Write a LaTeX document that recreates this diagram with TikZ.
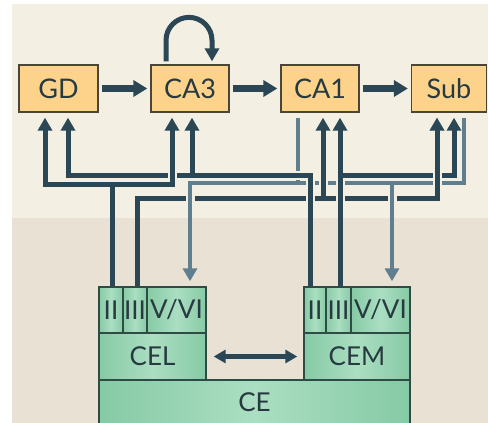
\documentclass[tikz,border=0pt]{standalone}
\usepackage{fontspec}
\setmainfont{Lato}
\usetikzlibrary{arrows.meta}
\definecolor{bgtop}{HTML}{F3F0E3}
\definecolor{bgbot}{HTML}{E9E1D4}
\definecolor{dk}{HTML}{2B4654}
\definecolor{lt}{HTML}{5F7E90}
\definecolor{orfill}{HTML}{FDD38B}
\definecolor{orline}{HTML}{4A4536}
\definecolor{gA}{HTML}{86CAA5}
\definecolor{gB}{HTML}{ABDEC2}
\definecolor{grline}{HTML}{2E4C44}
\definecolor{txt}{HTML}{263A40}
\newcommand\haloline[3]{%
  \begin{scope}\clip (0,0) rectangle (488,-216);
    \draw[#1,draw=bgtop,line width=9pt,#2] #3;
  \end{scope}
  \draw[#1] #3;}
\begin{document}
\begin{tikzpicture}[x=1pt,y=1pt,
  region/.style={draw=orline, line width=1.3pt, fill=orfill, minimum height=47pt,
    inner sep=0pt, text=txt, font=\fontsize{27}{27}\selectfont},
  cell/.style={draw=grline, line width=1.4pt, left color=gA, right color=gA, middle color=gB,
    inner sep=0pt, text=txt, font=\fontsize{26}{26}\selectfont},
  dkline/.style={draw=dk, line width=5pt},
  ltline/.style={draw=lt, line width=4pt},
  tip/.style={-{Triangle[length=13pt,width=14pt]}},
]
\fill[white] (0,0) rectangle (488,-423);
\fill[bgtop] (12,-4) rectangle (488,-218);
\fill[bgbot] (12,-218) rectangle (488,-423);
\useasboundingbox (0,0) rectangle (488,-423);

% hippocampal regions
\node[region, minimum width=79pt] (GD) at (58.5,-88.5) {GD};
\node[region, minimum width=78pt] (CA3) at (190,-88.5) {CA3};
\node[region, minimum width=78pt] (CA1) at (320,-88.5) {CA1};
\node[region, minimum width=75pt] (Sub) at (449,-88.5) {Sub};

% entorhinal cortex
\node[cell, minimum width=311pt, minimum height=45pt] (CE) at (254.5,-402.5) {CE};
\node[cell, minimum width=107pt, minimum height=47pt] (CEL) at (152.5,-356.5) {CEL};
\node[cell, minimum width=106pt, minimum height=47pt] (CEM) at (357,-356.5) {CEM};
\node[cell, minimum width=24pt, minimum height=46pt] (L2) at (111,-310) {II};
\node[cell, minimum width=24pt, minimum height=46pt] (L3) at (135,-310) {III};
\node[cell, minimum width=59pt, minimum height=46pt] (L56) at (176.5,-310) {V/VI};
\node[cell, minimum width=22pt, minimum height=46pt] (M2) at (315,-310) {II};
\node[cell, minimum width=25pt, minimum height=46pt] (M3) at (338.5,-310) {III};
\node[cell, minimum width=59pt, minimum height=46pt] (M56) at (380.5,-310) {V/VI};

% routing levels and columns
\coordinate (hA) at (0,-175);
\coordinate (hB) at (0,-184);
\coordinate (hC) at (0,-183);
\coordinate (hD) at (0,-198);
\coordinate (xG1) at (45,0);
\coordinate (xG2) at (68,0);
\coordinate (xC1) at (172,0);
\coordinate (xC2) at (192,0);
\coordinate (xA0) at (298,0);
\coordinate (xA1) at (323,0);
\coordinate (xS1) at (437,0);
\coordinate (xS2) at (454,0);
\coordinate (xS3) at (464,0);
\coordinate (xL2) at (112,0);
\coordinate (xL3) at (137,0);
\coordinate (xL5) at (190,0);
\coordinate (xM2) at (310,0);
\coordinate (xM3) at (340,0);
\coordinate (xM5) at (392,0);
\coordinate (xP1) at (166,0);
\coordinate (xP2) at (212,0);

% CEL III -> Sub
\draw[dkline,tip,shorten >=5pt] (L3.north -| xL3) |- (xS1 |- hD) -- (Sub.south -| xS1);
% CA1, Sub -> V/VI
\haloline{ltline,tip,shorten <=5pt,shorten >=5pt}{}{(Sub.south -| xS3) |- (xL5 |- hC) -- (L56.north -| xL5)}
\haloline{ltline,shorten <=5pt}{shorten >=6pt}{(CA1.south -| xA0) -- (xA0 |- hC)}
\haloline{ltline,tip,shorten >=5pt}{shorten <=6pt}{(xM5 |- hC) -- (M56.north -| xM5)}
% CEM II -> GD, CA3
\haloline{dkline,tip,shorten >=5pt}{}{(M2.north -| xM2) |- (xG2 |- hA) -- (GD.south -| xG2)}
\haloline{dkline,tip,shorten >=5pt}{shorten <=6pt}{(xC2 |- hA) -- (CA3.south -| xC2)}
% CEL II -> GD, CA3
\haloline{dkline,{Triangle[length=13pt,width=14pt]}-{Triangle[length=13pt,width=14pt]},shorten <=5pt,shorten >=5pt}{}{(GD.south -| xG1) |- (xC1 |- hB) -- (CA3.south -| xC1)}
\draw[dkline] (L2.north -| xL2) -- (xL2 |- hB);
% CEM III -> CA1, Sub
\haloline{dkline,tip,shorten >=5pt}{}{(M3.north -| xM3) -- (CA1.south -| xM3)}
\haloline{dkline,tip,shorten >=5pt}{shorten <=6pt}{(xM3 |- hA) -| (Sub.south -| xS2)}
% CEL III branches on top
\haloline{dkline,tip,shorten >=5pt}{shorten <=6pt}{(xS1 |- hD) -- (Sub.south -| xS1)}
\haloline{dkline,tip,shorten >=5pt}{shorten <=6pt}{(xA1 |- hD) -- (CA1.south -| xA1)}

% CA3 recurrent loop
\draw[dkline,tip,shorten <=3pt,shorten >=3pt] (CA3.north -| xP1) -- ++(0,24) arc[start angle=180,end angle=0,radius=23pt] -- (CA3.north -| xP2);

% trisynaptic chain
\draw[dkline,line width=6.5pt,-{Triangle[length=14pt,width=16pt]},shorten <=3pt,shorten >=3pt] (GD) -- (CA3);
\draw[dkline,line width=6.5pt,-{Triangle[length=14pt,width=16pt]},shorten <=3pt,shorten >=3pt] (CA3) -- (CA1);
\draw[dkline,line width=6.5pt,-{Triangle[length=14pt,width=16pt]},shorten <=3pt,shorten >=3pt] (CA1) -- (Sub);

% CEL <-> CEM
\draw[dkline,line width=4.5pt,{Triangle[length=12pt,width=13pt]}-{Triangle[length=12pt,width=13pt]},shorten <=7pt,shorten >=6pt] (CEL) -- (CEM);
\end{tikzpicture}
\end{document}
